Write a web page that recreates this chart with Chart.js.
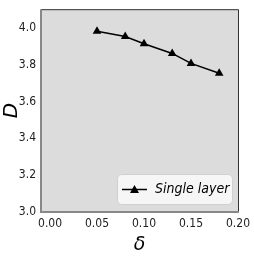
<!DOCTYPE html>
<html><head><meta charset="utf-8">
<script src="https://cdn.jsdelivr.net/npm/chart.js@4.4.0/dist/chart.umd.min.js"></script>
<style>html,body{margin:0;padding:0;background:#fff;}#wrap{width:254px;height:262px;position:relative;}</style>
</head><body><div id="wrap"><canvas id="c" width="254" height="262"></canvas></div>
<script>
const deltaValues = [0.05, 0.08, 0.10, 0.13, 0.15, 0.18];
const dValues = [3.98, 3.952, 3.913, 3.86, 3.806, 3.753];
const seriesLabel = 'Single layer';
const xTicks = [0.00, 0.05, 0.10, 0.15, 0.20];
const yTicks = [3.0, 3.2, 3.4, 3.6, 3.8, 4.0];
const xTitle = 'δ';
const yTitle = 'D';

const tickFont = {family: "'DejaVu Sans Condensed', 'Liberation Sans', sans-serif", size: 12};

const framePlugin = {
  id: 'frame',
  beforeDraw(chart) {
    const {ctx, chartArea: a} = chart;
    ctx.save();
    ctx.fillStyle = '#dcdcdc';
    ctx.fillRect(a.left, a.top, a.right - a.left, a.bottom - a.top);
    ctx.restore();
  },
  afterDatasetsDraw(chart) {
    const {ctx, chartArea: a} = chart;
    ctx.save();
    ctx.strokeStyle = '#333';
    ctx.lineWidth = 1;
    ctx.beginPath();
    ctx.moveTo(a.left, a.top + 0.5); ctx.lineTo(a.right + 0.5, a.top + 0.5);
    ctx.lineTo(a.right + 0.5, a.bottom);
    ctx.stroke();
    ctx.strokeStyle = '#888';
    ctx.lineWidth = 2;
    ctx.beginPath();
    ctx.moveTo(a.left, a.top); ctx.lineTo(a.left, a.bottom); ctx.lineTo(a.right + 1, a.bottom);
    ctx.stroke();
    // legend
    const ds = chart.data.datasets[0];
    const bx = 117, by = 174, bw = 115, bh = 30, r = 4;
    ctx.fillStyle = 'rgba(248,248,248,0.9)';
    ctx.strokeStyle = '#d0d0d0';
    ctx.lineWidth = 1;
    ctx.beginPath();
    ctx.roundRect(bx + 0.5, by + 0.5, bw, bh, r);
    ctx.fill(); ctx.stroke();
    const ly = by + bh / 2 + 0.5;
    ctx.strokeStyle = '#000';
    ctx.lineWidth = 1.5;
    ctx.beginPath(); ctx.moveTo(bx + 5, ly); ctx.lineTo(bx + 30, ly); ctx.stroke();
    const mx = bx + 17.5, s = 4.5;
    ctx.fillStyle = '#000';
    ctx.beginPath();
    ctx.moveTo(mx, ly - s); ctx.lineTo(mx + s, ly + s * 0.75); ctx.lineTo(mx - s, ly + s * 0.75); ctx.closePath();
    ctx.fill();
    ctx.font = "italic 14px 'DejaVu Sans Condensed', 'Liberation Sans', sans-serif";
    ctx.textBaseline = 'middle';
    ctx.fillStyle = '#000';
    ctx.fillText(ds.label, bx + 38, ly);
    ctx.restore();
  }
};

new Chart(document.getElementById('c'), {
  type: 'line',
  data: {
    datasets: [{
      label: seriesLabel,
      data: deltaValues.map((x, i) => ({x, y: dValues[i]})),
      borderColor: '#000',
      backgroundColor: '#000',
      borderWidth: 1.5,
      pointStyle: 'triangle',
      pointRadius: 5,
      pointBorderWidth: 0,
      tension: 0
    }]
  },
  options: {
    responsive: false,
    animation: false,
    devicePixelRatio: 1,
    layout: {padding: {left: 0, right: 16, top: 5, bottom: 0}},
    plugins: {legend: {display: false}, tooltip: {enabled: false}},
    scales: {
      x: {
        type: 'linear', min: -0.0096, max: 0.20,
        afterBuildTicks(s) { s.ticks = xTicks.map(v => ({value: v})); },
        afterFit(s) { s.height = 50; },
        grid: {display: false, drawOnChartArea: false, drawTicks: true, tickLength: 3, tickColor: '#222'},
        border: {display: false},
        ticks: {color: '#222', font: tickFont, padding: 2, maxRotation: 0, callback: v => v.toFixed(2)},
        title: {display: true, text: xTitle, color: '#000', font: {family: "'DejaVu Sans', sans-serif", size: 19, style: 'italic'}, padding: {top: 0, bottom: 6}}
      },
      y: {
        type: 'linear', min: 3.0, max: 4.1,
        afterBuildTicks(s) { s.ticks = yTicks.map(v => ({value: v})); },
        afterFit(s) { s.width = 41; },
        grid: {display: false, drawOnChartArea: false, drawTicks: true, tickLength: 3, tickColor: '#222'},
        border: {display: false},
        ticks: {color: '#222', font: tickFont, padding: 2, callback: v => v.toFixed(1)},
        title: {display: true, text: yTitle, color: '#000', font: {family: "'DejaVu Sans', sans-serif", size: 20, style: 'italic'}, padding: {top: 0, bottom: 0}}
      }
    }
  },
  plugins: [framePlugin]
});
</script></body></html>
